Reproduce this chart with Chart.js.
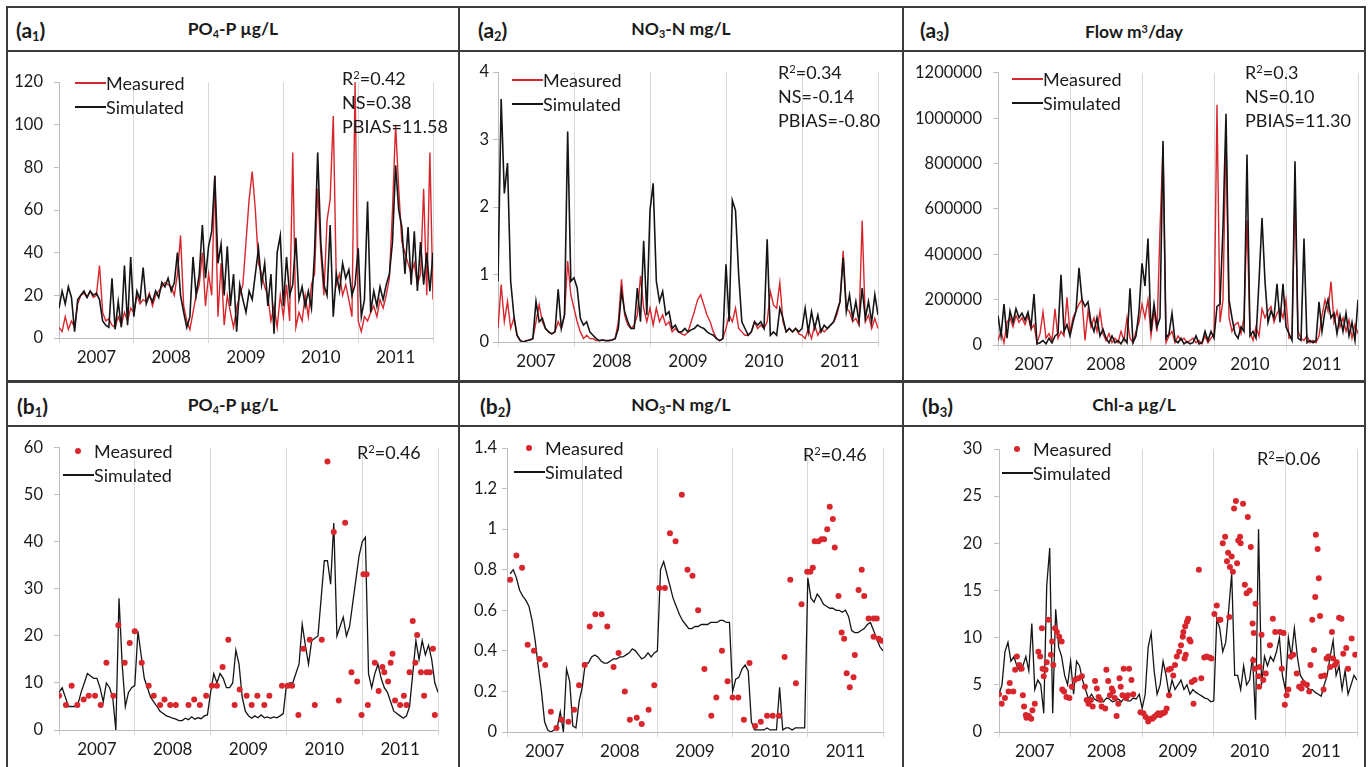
<!DOCTYPE html>
<html>
<head>
<meta charset="utf-8">
<title>Measured vs simulated, 2007-2011</title>
<script src="https://cdn.jsdelivr.net/npm/chart.js@4.4.1/dist/chart.umd.min.js"></script>
<style>
  body { margin: 0; background: #fff; font-family: Lato, "Open Sans", sans-serif; color: #1a1a1a; }
  #fig { position: relative; width: 1371px; height: 767px; overflow: hidden; }
  .rule { position: absolute; background: #3c3c3c; }
  .tag { position: absolute; font-weight: bold; font-size: 21px; line-height: 30px; }
  .tag sub, .title sub { font-size: 62%; vertical-align: -0.25em; }
  .title { position: absolute; font-weight: bold; font-size: 17.5px; line-height: 30px; text-align: center; }
  .key, .stats { position: absolute; font-size: 18px; line-height: 24px; white-space: nowrap; }
  .key .glyph { display: inline-block; width: 31px; height: 24px; vertical-align: top; position: relative; }
  .key .glyph i { position: absolute; left: 0; right: 0; top: 11px; height: 1.6px; }
  .key .glyph b { position: absolute; left: 12px; top: 9px; width: 6px; height: 6px; border-radius: 50%; }
  .stats sup { font-size: 62%; vertical-align: 0.55em; line-height: 0; }
  canvas { position: absolute; }
</style>
</head>
<body>
<div id="fig"></div>
<script>
// semi-monthly sampling, months since Jan 2007
var halfMonths = Array.from({ length: 121 }, function (_, i) { return i / 2; });
var yearLabels = ['2007', '2008', '2009', '2010', '2011'];

// (a1) PO4-P ug/L, calibration
var a1Sim = [
  14, 22, 16, 24, 19, 3, 18, 20, 22, 19,
  22, 20, 21, 18, 8, 6, 5, 28, 4, 17,
  5, 34, 6, 38, 10, 22, 18, 33, 16, 20,
  17, 22, 19, 26, 24, 28, 22, 26, 40, 20,
  12, 5, 10, 38, 20, 30, 53, 28, 43, 50,
  76, 35, 44, 20, 43, 15, 30, 3, 25, 18,
  12, 22, 18, 30, 42, 25, 35, 15, 30, 2,
  40, 48, 15, 38, 20, 25, 47, 18, 24, 15,
  22, 14, 40, 87, 45, 25, 20, 53, 10, 30,
  22, 35, 28, 32, 20, 25, 42, 10, 18, 64,
  12, 22, 15, 24, 18, 25, 30, 45, 81, 60,
  52, 30, 52, 25, 50, 22, 45, 25, 40, 22,
  40];
var a1Meas = [
  5, 3, 10, 4, 8, 5, 16, 20, 21, 19,
  22, 19, 20, 34, 12, 8, 9, 6, 5, 10,
  6, 12, 8, 14, 12, 20, 16, 18, 17, 21,
  15, 20, 22, 24, 26, 25, 24, 20, 30, 48,
  15, 8, 4, 12, 20, 25, 40, 15, 30, 20,
  76, 10, 35, 6, 20, 12, 5, 14, 20, 25,
  45, 65, 78, 60, 35, 30, 24, 20, 8, 15,
  5, 20, 10, 25, 8, 87, 5, 12, 8, 20,
  10, 25, 30, 70, 40, 20, 55, 65, 104, 25,
  30, 20, 25, 18, 10, 120, 8, 3, 10, 8,
  12, 15, 10, 18, 14, 20, 28, 60, 100, 70,
  45, 40, 35, 30, 35, 25, 30, 70, 20, 87,
  18];

// (a2) NO3-N mg/L, calibration
var a2Sim = [
  0.9, 3.6, 2.2, 2.65, 0.9, 0.4, 0.1, 0.02, 0, 0.02,
  0.03, 0.05, 0.6, 0.3, 0.35, 0.2, 0.15, 0.12, 0.15, 0.78,
  0.2, 0.4, 3.12, 0.9, 0.95, 0.8, 0.35, 0.25, 0.3, 0.15,
  0.1, 0.05, 0.02, 0.03, 0.02, 0.02, 0.03, 0.05, 0.2, 0.75,
  0.45, 0.3, 0.2, 0.2, 0.8, 0.3, 1.5, 0.4, 1.95, 2.35,
  0.9, 0.6, 0.75, 0.4, 0.45, 0.2, 0.25, 0.15, 0.15, 0.2,
  0.15, 0.18, 0.2, 0.25, 0.22, 0.2, 0.15, 0.12, 0.1, 0.05,
  0.02, 0.05, 1.15, 0.3, 2.1, 1.95, 1.0, 0.3, 0.2, 0.1,
  0.15, 0.3, 0.25, 0.3, 0.2, 1.52, 0.1, 0.15, 0.1, 0.5,
  0.35, 0.15, 0.2, 0.15, 0.2, 0.15, 0.2, 0.5, 0.15, 0.45,
  0.2, 0.4, 0.15, 0.25, 0.2, 0.25, 0.3, 0.45, 0.6, 1.25,
  0.45, 0.7, 0.35, 0.6, 0.3, 0.8, 0.35, 0.6, 0.3, 0.7,
  0.4];
var a2Meas = [
  0.2, 0.85, 0.3, 0.6, 0.2, 0.35, 0.1, 0.03, 0, 0.02,
  0.03, 0.05, 0.3, 0.55, 0.3, 0.2, 0.15, 0.12, 0.15, 0.3,
  0.2, 0.4, 1.2, 0.7, 0.5, 0.3, 0.15, 0.05, 0.1, 0.05,
  0.05, 0.02, 0.02, 0.03, 0.02, 0.02, 0.03, 0.05, 0.3, 0.93,
  0.4, 0.25, 0.2, 0.25, 0.4, 0.98, 0.5, 0.3, 0.5, 0.25,
  0.5, 0.3, 0.4, 0.25, 0.3, 0.15, 0.2, 0.15, 0.12, 0.1,
  0.15, 0.3, 0.45, 0.62, 0.7, 0.55, 0.4, 0.3, 0.15, 0.05,
  0.02, 0.05, 0.2, 0.4, 0.3, 0.5, 0.2, 0.15, 0.1, 0.1,
  0.15, 0.3, 0.2, 0.25, 0.2, 0.3, 0.75, 0.55, 0.5, 0.88,
  0.3, 0.15, 0.2, 0.15, 0.2, 0.12, 0.1, 0.05, 0.2, 0.05,
  0.25, 0.1, 0.2, 0.15, 0.2, 0.25, 0.3, 0.4, 0.6, 1.35,
  0.5, 0.45, 0.3, 0.35, 0.25, 1.8, 0.3, 0.4, 0.2, 0.35,
  0.2];

// (a3) Flow m3/day
var a3Sim = [
  130000, 40000, 180000, 30000, 150000, 100000, 160000, 120000, 140000, 110000,
  145000, 80000, 225000, 5000, 10000, 20000, 5000, 30000, 10000, 40000,
  50000, 310000, 60000, 90000, 40000, 100000, 150000, 340000, 200000, 170000,
  190000, 100000, 60000, 120000, 40000, 70000, 30000, 10000, 40000, 10000,
  20000, 5000, 30000, 10000, 250000, 10000, 40000, 150000, 360000, 260000,
  470000, 60000, 180000, 80000, 120000, 900000, 30000, 50000, 140000, 20000,
  10000, 30000, 5000, 15000, 5000, 10000, 40000, 5000, 10000, 60000,
  20000, 60000, 30000, 170000, 180000, 520000, 1020000, 200000, 120000, 50000,
  30000, 80000, 60000, 840000, 40000, 60000, 30000, 280000, 560000, 280000,
  100000, 150000, 120000, 270000, 100000, 270000, 80000, 50000, 20000, 810000,
  30000, 20000, 470000, 10000, 20000, 10000, 20000, 190000, 60000, 150000,
  200000, 120000, 140000, 50000, 130000, 60000, 140000, 40000, 100000, 20000,
  200000];
var a3Meas = [
  20000, 60000, 10000, 100000, 120000, 80000, 130000, 100000, 120000, 90000,
  130000, 70000, 90000, 10000, 50000, 145000, 30000, 50000, 20000, 160000,
  30000, 60000, 40000, 210000, 50000, 120000, 150000, 180000, 200000, 20000,
  150000, 80000, 120000, 60000, 150000, 50000, 20000, 50000, 10000, 30000,
  10000, 60000, 20000, 120000, 30000, 10000, 60000, 100000, 180000, 120000,
  200000, 40000, 150000, 60000, 510000, 880000, 10000, 40000, 60000, 10000,
  40000, 20000, 30000, 10000, 20000, 30000, 10000, 20000, 5000, 40000,
  10000, 30000, 50000, 1060000, 100000, 200000, 930000, 120000, 60000, 90000,
  100000, 50000, 120000, 550000, 60000, 20000, 80000, 40000, 160000, 120000,
  150000, 170000, 100000, 140000, 160000, 120000, 200000, 30000, 40000, 680000,
  60000, 30000, 20000, 40000, 10000, 20000, 10000, 40000, 130000, 200000,
  150000, 280000, 100000, 150000, 80000, 120000, 60000, 110000, 30000, 90000,
  50000];

// (b1) PO4-P ug/L, validation
var b1Sim = [
  8, 9, 7, 5, 5, 5, 5.5, 8, 10, 12,
  11.5, 11, 11, 9, 6, 10, 9, 7, 0, 28,
  14, 5, 8, 9, 9.5, 21, 16, 11, 9, 7,
  6, 5, 4, 3.5, 3, 2.8, 2.5, 2.3, 2, 2,
  2.5, 2.2, 2.8, 2.3, 2.6, 2.4, 3, 3.2, 8, 12,
  10, 12, 11, 9, 9, 10, 17, 14, 7, 4,
  3, 2.5, 3, 2.6, 3.2, 2.6, 2.8, 2.5, 2.8, 2.6,
  3, 3.5, 9.5, 10, 10, 12, 14, 22.5, 18, 14,
  19, 19.5, 20, 28, 36, 36, 31, 44, 20, 22,
  24, 20, 22, 27, 32, 37, 40, 41, 12, 9,
  12, 14, 11, 9, 8, 6, 4, 3.5, 3, 2.5,
  3, 5, 12, 19, 15, 19, 16, 18, 15, 10,
  8];
var b1MeasT = [0.0, 1.1, 2.0, 2.9, 3.9, 4.7, 5.7, 6.6, 7.5, 8.6, 9.4, 10.4, 11.2, 12.0, 13.1,
  14.2, 15.0, 16.0, 16.7, 17.6, 18.5, 20.5, 21.4, 22.3, 23.3, 24.2, 25.0, 25.9, 26.8, 27.8,
  28.6, 29.7, 30.5, 31.4, 32.5, 33.3, 35.3, 36.2, 36.9, 37.9, 38.7, 39.7, 40.5, 41.6, 42.5,
  43.5, 44.3, 45.3, 46.3, 47.2, 47.9, 48.2, 48.7, 48.9, 50.0, 50.6, 51.2, 51.5, 52.1, 52.5,
  52.8, 53.2, 54.0, 54.6, 55.0, 55.5, 56.0, 56.4, 56.7, 57.3, 57.8, 58.2, 58.7, 59.2, 59.5];
var b1Meas = [7.3, 5.3, 9.4, 5.3, 6.5, 7.3, 7.3, 5.3, 14.3, 7.3, 22.3, 14.3, 18.5, 21, 14.3,
  9.4, 7.3, 5.3, 6.5, 5.3, 5.3, 5.3, 6.5, 5.3, 7.3, 9.4, 9.4, 13.4, 19.2, 5.3,
  8.6, 7.3, 5.3, 7.3, 5.3, 7.3, 9.4, 9.4, 9.4, 3.2, 17.3, 19.2, 5.3, 19.2, 57.1,
  42.1, 6.3, 44.1, 12.3, 10.3, 3.2, 33.1, 33.1, 5.3, 14.3, 8.3, 13.4, 12.3, 10.3, 14.3,
  16.2, 6.3, 5.3, 7.3, 5.3, 12.3, 23.2, 14.3, 20.2, 12.3, 7.3, 12.3, 12.3, 17.3, 3.2];

// (b2) NO3-N mg/L, validation
var b2Sim = [
  null, 0.78, 0.8, 0.76, 0.7, 0.67, 0.65, 0.62, 0.55, 0.45,
  0.32, 0.2, 0.05, 0.01, 0, 0.01, 0.02, 0.1, 0, 0.31,
  0.25, 0.03, 0.02, 0.15, 0.22, 0.34, 0.34, 0.37, 0.38, 0.37,
  0.35, 0.34, 0.34, 0.35, 0.36, 0.36, 0.37, 0.37, 0.38, 0.39,
  0.41, 0.4, 0.38, 0.36, 0.37, 0.39, 0.37, 0.39, 0.4, 0.8,
  0.84, 0.78, 0.72, 0.66, 0.62, 0.58, 0.55, 0.53, 0.51, 0.51,
  0.52, 0.52, 0.53, 0.53, 0.53, 0.54, 0.54, 0.54, 0.55, 0.55,
  0.54, 0.54, 0.2, 0.26, 0.27, 0.31, 0.33, 0.3, 0.05, 0.01,
  0.01, 0.01, 0.01, 0.02, 0.01, 0.01, 0.01, 0.22, 0.01, 0.02,
  0.02, 0.01, 0.02, 0.02, 0.02, 0.02, 0.76, 0.66, 0.64, 0.68,
  0.66, 0.63, 0.62, 0.61, 0.61, 0.6, 0.6, 0.59, 0.6, 0.57,
  0.5, 0.49, 0.49, 0.5, 0.51, 0.53, 0.54, 0.5, 0.46, 0.42,
  0.4];
var b2MeasT = [0.5, 1.5, 2.4, 3.3, 4.3, 5.2, 6.1, 7.0, 7.9, 8.7, 9.8, 10.7, 11.5, 12.4, 13.2,
  14.1, 15.1, 16.0, 17.0, 17.8, 18.8, 19.6, 20.7, 21.5, 22.6, 23.5, 24.3, 25.2, 26.0, 26.9,
  27.9, 28.8, 29.6, 30.5, 31.5, 32.6, 33.4, 34.3, 35.2, 36.0, 36.9, 37.8, 38.7, 39.6, 40.5,
  41.5, 42.4, 43.4, 44.3, 45.2, 46.1, 47.0, 47.9, 48.4, 48.8, 49.1, 49.7, 50.2, 50.6, 51.1,
  51.5, 52.0, 52.3, 52.9, 53.4, 53.8, 54.2, 54.7, 55.3, 55.5, 56.1, 56.6, 57.0, 57.7, 58.5,
  58.5, 59.0, 59.3, 59.8];
var b2Meas = [0.75, 0.87, 0.81, 0.43, 0.40, 0.36, 0.33, 0.10, 0.02, 0.06, 0.05, 0.11, 0.23, 0.33, 0.52,
  0.58, 0.58, 0.52, 0.32, 0.39, 0.20, 0.06, 0.07, 0.04, 0.11, 0.23, 0.71, 0.71, 0.98, 0.94,
  1.17, 0.80, 0.77, 0.60, 0.31, 0.08, 0.17, 0.40, 0.25, 0.17, 0.17, 0.06, 0.34, 0.03, 0.05,
  0.08, 0.08, 0.08, 0.37, 0.75, 0.24, 0.63, 0.79, 0.79, 0.81, 0.94, 0.94, 0.95, 0.95, 1.00,
  1.11, 1.05, 0.91, 0.67, 0.49, 0.46, 0.29, 0.22, 0.27, 0.38, 0.70, 0.80, 0.67, 0.56, 0.56,
  0.47, 0.56, 0.46, 0.45];

// (b3) Chl-a ug/L, validation
var b3Sim = [
  4, 5, 8.5, 9.5, 7.5, 8, 7, 6.5, 7, 8,
  6.5, 11.5, 4.5, 5.5, 5, 2, 15.5, 19.5, 2, 13,
  9, 8, 6, 5, 7.5, 4, 7.5, 7, 5.5, 4.5,
  3.5, 4, 3.5, 3.3, 3.5, 3.2, 3.6, 3.5, 3.2, 3.3,
  3.5, 3.2, 3.6, 3.3, 3.3, 3.6, 3.5, 4, 2.5, 4,
  9, 10.5, 6.5, 4, 5, 7.5, 6, 4, 5.5, 4.5,
  5, 5.5, 4.5, 5, 4, 4.5, 4.2, 4, 3.8, 3.6,
  3.5, 3.2, 3.3, 12, 11, 8.5, 9.5, 13, 16.8, 6,
  6, 4.5, 7, 5, 5.5, 8, 1.3, 21.5, 5, 8,
  7, 8, 7.5, 8.5, 10, 6, 4.5, 10, 8, 11,
  8, 6, 5.5, 4.8, 4.5, 4.5, 4.2, 4, 3.8, 5,
  6, 8, 9.7, 6, 7, 4.5, 6.5, 4, 5, 6,
  5.5];
var b3MeasT = [
  0, 0.45, 1.0, 1.6, 1.8, 2.4, 2.7, 3.0, 3.4, 3.8, 4.0, 4.2, 4.5, 4.6, 5.0, 5.4, 5.6, 6.0, 6.6, 6.9,
  7.2, 7.3, 7.5, 7.8, 8.0, 8.3, 8.7, 8.9, 9.1, 9.4, 9.7, 10.1, 10.5, 10.6, 10.9, 11.3, 11.8,
  12.2, 12.7, 13.3, 13.9, 14.4, 14.7, 15.0, 15.4, 15.7, 16.1, 16.4, 16.7, 17.0, 17.2, 17.8, 18.0,
  18.3, 18.6, 18.9, 19.1, 19.4, 19.7, 20.0, 20.2, 20.4, 20.7, 20.9, 21.3, 21.6, 21.8, 22.2, 22.5,
  23.7, 24.2, 24.6, 25.0, 25.4, 25.7, 26.0, 26.4, 26.7, 27.0, 27.3, 27.5, 27.8, 28.1, 28.4, 28.5,
  28.8, 29.2, 29.5, 29.8, 30.2, 30.5, 30.8, 30.9, 31.2, 31.5, 31.7, 31.9, 32.1, 31.3, 31.1, 32.3,
  32.6, 32.8, 33.5, 33.9, 34.4, 34.8, 35.3, 35.6,
  36.1, 36.5, 36.9, 37.1, 37.5, 37.9, 38.2, 38.4, 38.6, 38.7, 39.0, 39.2, 39.4, 39.7, 39.9, 40.1,
  40.4, 40.5, 40.9, 41.2, 41.5, 41.7, 42.0, 42.2, 42.5, 42.7, 43.0, 42.6, 42.9, 43.5, 43.6, 43.7,
  44.0, 44.3, 44.7, 45.4, 45.9, 46.3, 47.1, 47.4, 47.7, 47.9, 48.2,
  48.5, 48.9, 49.3, 49.9, 50.3, 50.7, 51.0, 51.6, 52.0, 52.2, 52.5, 52.8, 53.0, 53.1, 53.4, 53.6,
  53.8, 54.0, 54.4, 54.6, 54.9, 55.2, 55.5, 55.8, 56.0, 56.3, 56.6, 57.0, 57.4, 57.7, 58.2, 58.5,
  59.1, 59.7];
var b3Meas = [
  4.0, 3.0, 3.6, 4.3, 5.2, 4.3, 6.6, 8.0, 7.1, 6.7, 3.9, 2.7, 1.8, 1.5, 1.7, 1.4, 2.3, 3.0, 8.5, 8.0,
  11.0, 6.7, 5.9, 6.6, 7.4, 11.9, 8.2, 9.6, 7.1, 11.0, 10.6, 10.1, 9.6, 4.5, 4.3, 3.7, 3.6,
  4.8, 5.5, 5.7, 5.9, 4.8, 3.4, 3.0, 3.4, 2.7, 5.4, 4.6, 3.7, 3.4, 2.7, 2.5, 6.6,
  5.4, 3.9, 4.6, 4.3, 3.6, 1.7, 3.0, 5.7, 4.8, 3.9, 6.7, 3.6, 3.9, 6.7, 5.5, 4.0,
  2.1, 2.0, 1.6, 1.1, 1.4, 1.4, 1.6, 1.8, 2.0, 1.8, 2.0, 2.0, 2.1, 2.5, 6.6, 3.9,
  6.7, 6.0, 7.1, 8.0, 8.5, 9.2, 10.1, 10.6, 11.2, 11.7, 12.0, 9.8, 9.6, 8.2, 7.8, 5.3,
  3.0, 5.5, 17.2, 5.7, 7.9, 8.0, 7.9, 7.8,
  12.5, 13.4, 11.9, 11.9, 20.0, 20.7, 18.1, 19.0, 12.2, 17.5, 18.6, 17.0, 23.7, 24.5, 17.9, 20.3,
  20.7, 20.0, 24.2, 15.6, 14.7, 22.8, 15.0, 19.6, 11.5, 10.5, 13.6, 7.6, 6.7, 5.9, 4.8, 6.9,
  10.3, 5.5, 6.2, 9.2, 12.0, 10.6, 10.6, 6.7, 10.5, 2.9, 3.9,
  4.5, 8.0, 8.2, 6.2, 4.8, 4.6, 5.2, 5.0, 4.3, 7.1, 11.9, 8.7, 14.3, 20.9, 19.4, 16.3,
  12.3, 5.9, 4.5, 6.0, 7.8, 8.0, 6.9, 10.6, 7.8, 7.1, 7.4, 12.1, 12.0, 8.3, 8.9, 6.7,
  9.9, 8.2];

var RED = '#d8262c';
var BLACK = '#151515';
var AXIS = '#bdbdbd';
var GRID = '#d8d8d8';

var fig = document.getElementById('fig');

function add(html) {
  var d = document.createElement('div');
  d.innerHTML = html;
  var el = d.firstChild;
  fig.appendChild(el);
  return el;
}

function rule(x, y, w, h) {
  add('<div class="rule" style="left:' + x + 'px;top:' + y + 'px;width:' + w + 'px;height:' + h + 'px"></div>');
}

// frame and panel dividers
rule(6, 6, 1360, 2);
rule(6, 6, 2, 770);
rule(1364, 6, 2, 770);
rule(458, 6, 2, 770);
rule(902, 6, 2, 770);
rule(6, 50, 1360, 2);
rule(6, 380, 1360, 3);
rule(6, 425, 1360, 2);

function pairs(xs, ys) {
  return xs.map(function (x, i) { return { x: x, y: ys[i] }; });
}

function lineSet(xs, ys, color, order, width) {
  return { data: pairs(xs, ys), borderColor: color, borderWidth: width || 1.4, pointRadius: 0, tension: 0, order: order };
}

function dotSet(xs, ys) {
  return { data: pairs(xs, ys), showLine: false, pointRadius: 3, pointBackgroundColor: RED,
           pointBorderWidth: 0, order: 0 };
}

function panel(p) {
  var b = p.body, a = p.plot;
  add('<div class="tag" style="left:' + p.tag[0] + 'px;top:' + (p.tag[1] - 15) + 'px">' + p.tagText + '</div>');
  add('<div class="title" style="left:' + b[0] + 'px;width:' + (b[2] - b[0]) + 'px;top:' + (p.tag[1] - 16) + 'px">' + p.title + '</div>');

  var cv = document.createElement('canvas');
  cv.width = b[2] - b[0];
  cv.height = b[3] - b[1];
  cv.style.left = b[0] + 'px';
  cv.style.top = b[1] + 'px';
  fig.appendChild(cv);

  var rows = p.keys.map(function (k) {
    var g = k.dot ? '<b style="background:' + k.color + '"></b>' : '<i style="background:' + k.color + '"></i>';
    return '<div><span class="glyph">' + g + '</span>' + k.text + '</div>';
  }).join('');
  add('<div class="key" style="left:' + p.keyAt[0] + 'px;top:' + p.keyAt[1] + 'px">' + rows + '</div>');
  add('<div class="stats" style="left:' + p.statsAt[0] + 'px;top:' + p.statsAt[1] + 'px">' +
      p.stats.map(function (s) { return '<div>' + s + '</div>'; }).join('') + '</div>');

  new Chart(cv, {
    type: 'line',
    data: { datasets: p.datasets },
    options: {
      responsive: false,
      animation: false,
      devicePixelRatio: 1,
      layout: { padding: { left: 0, top: a[1] - b[1], right: b[2] - a[2], bottom: 0 } },
      plugins: { legend: { display: false }, tooltip: { enabled: false } },
      scales: {
        x: {
          type: 'linear', min: 0, max: 60,
          afterFit: function (s) { s.height = b[3] - a[3]; },
          border: { color: AXIS, width: 1 },
          grid: {
            color: function (c) { return c.tick && c.tick.value % 12 === 0 ? GRID : 'rgba(0,0,0,0)'; },
            tickLength: 5
          },
          ticks: {
            stepSize: 6, autoSkip: false, maxRotation: 0, padding: 4, color: '#1a1a1a',
            font: { family: 'Lato', size: 17 },
            callback: function (v) { return v % 12 === 6 ? yearLabels[(v - 6) / 12] : ''; }
          }
        },
        y: {
          min: 0, max: p.yMax,
          afterFit: function (s) { s.width = a[0] - b[0]; },
          border: { color: AXIS, width: 1 },
          grid: { drawOnChartArea: false, tickLength: 5, color: AXIS },
          ticks: {
            stepSize: p.yStep, padding: p.gap - 5, color: '#1a1a1a',
            font: { family: 'Lato', size: 16.5 },
            callback: function (v) { return String(Math.round(v * 10) / 10); }
          }
        }
      }
    }
  });
}

var lineKeys = [{ text: 'Measured', color: RED }, { text: 'Simulated', color: BLACK }];
var dotKeys = [{ text: 'Measured', color: RED, dot: true }, { text: 'Simulated', color: BLACK }];

panel({
  tagText: '(a<sub>1</sub>)', title: 'PO<sub>4</sub>-P µg/L', tag: [16, 30],
  body: [8, 52, 458, 380], plot: [59, 82, 433, 338], gap: 16, yMax: 120, yStep: 20,
  keys: lineKeys, keyAt: [75, 71],
  stats: ['R<sup>2</sup>=0.42', 'NS=0.38', 'PBIAS=11.58'], statsAt: [342, 66],
  datasets: [lineSet(halfMonths, a1Sim, BLACK, 0, 1.6), lineSet(halfMonths, a1Meas, RED, 1)]
});
panel({
  tagText: '(a<sub>2</sub>)', title: 'NO<sub>3</sub>-N mg/L', tag: [478, 30],
  body: [460, 52, 902, 380], plot: [498, 72, 878, 342], gap: 9, yMax: 4, yStep: 1,
  keys: lineKeys, keyAt: [512, 68],
  stats: ['R<sup>2</sup>=0.34', 'NS=-0.14', 'PBIAS=-0.80'], statsAt: [778, 60],
  datasets: [lineSet(halfMonths, a2Sim, BLACK, 0, 1.6), lineSet(halfMonths, a2Meas, RED, 1)]
});
panel({
  tagText: '(a<sub>3</sub>)', title: 'Flow m<sup style="font-size:62%;vertical-align:0.5em">3</sup>/day', tag: [920, 30],
  body: [904, 52, 1364, 380], plot: [998, 66, 1358, 345], gap: 16, yMax: 1200000, yStep: 200000,
  keys: lineKeys, keyAt: [1012, 67],
  stats: ['R<sup>2</sup>=0.3', 'NS=0.10', 'PBIAS=11.30'], statsAt: [1245, 60],
  datasets: [lineSet(halfMonths, a3Sim, BLACK, 0, 1.6), lineSet(halfMonths, a3Meas, RED, 1)]
});
panel({
  tagText: '(b<sub>1</sub>)', title: 'PO<sub>4</sub>-P µg/L', tag: [17, 406],
  body: [8, 427, 458, 767], plot: [59, 446, 438, 730], gap: 16, yMax: 60, yStep: 10,
  keys: dotKeys, keyAt: [63, 439],
  stats: ['R<sup>2</sup>=0.46'], statsAt: [357, 440],
  datasets: [dotSet(b1MeasT, b1Meas), lineSet(halfMonths, b1Sim, BLACK, 1, 1.3)]
});
panel({
  tagText: '(b<sub>2</sub>)', title: 'NO<sub>3</sub>-N mg/L', tag: [480, 406],
  body: [460, 427, 902, 767], plot: [507, 448, 883, 732], gap: 10, yMax: 1.4, yStep: 0.2,
  keys: dotKeys, keyAt: [514, 436],
  stats: ['R<sup>2</sup>=0.46'], statsAt: [803, 442],
  datasets: [dotSet(b2MeasT, b2Meas), lineSet(halfMonths, b2Sim, BLACK, 1, 1.3)]
});
panel({
  tagText: '(b<sub>3</sub>)', title: 'Chl-a µg/L', tag: [922, 406],
  body: [904, 427, 1364, 767], plot: [999, 449, 1357, 732], gap: 17, yMax: 30, yStep: 5,
  keys: dotKeys, keyAt: [1002, 437],
  stats: ['R<sup>2</sup>=0.06'], statsAt: [1257, 446],
  datasets: [dotSet(b3MeasT, b3Meas), lineSet(halfMonths, b3Sim, BLACK, 1, 1.3)]
});
</script>
</body>
</html>
